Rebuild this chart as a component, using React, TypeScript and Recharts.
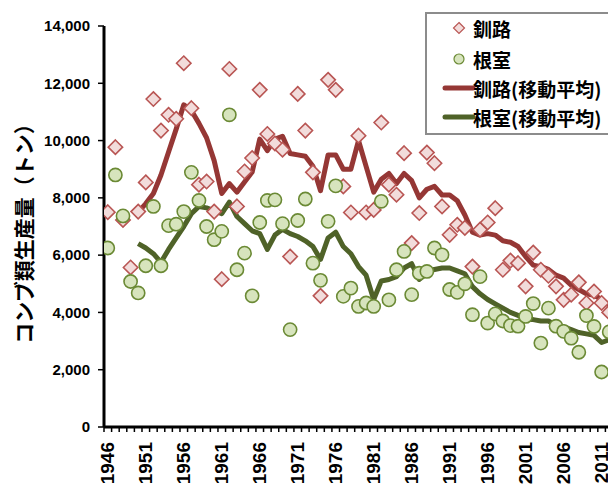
import React from 'react';
import { ComposedChart, Line, Scatter, XAxis, YAxis, Label } from 'recharts';

const years = [
  1946, 1947, 1948, 1949, 1950, 1951, 1952, 1953, 1954, 1955,
  1956, 1957, 1958, 1959, 1960, 1961, 1962, 1963, 1964, 1965,
  1966, 1967, 1968, 1969, 1970, 1971, 1972, 1973, 1974, 1975,
  1976, 1977, 1978, 1979, 1980, 1981, 1982, 1983, 1984, 1985,
  1986, 1987, 1988, 1989, 1990, 1991, 1992, 1993, 1994, 1995,
  1996, 1997, 1998, 1999, 2000, 2001, 2002, 2003, 2004, 2005,
  2006, 2007, 2008, 2009, 2010, 2011, 2012,
];

// 釧路 (annual)
const kushiro = [
  7500, 9770, 7230, 5570, 7520, 8540, 11450, 10350, 10900, 10760,
  12700, 11130, 8460, 8570, 7520, 5160, 12500, 7700, 8920, 9390,
  11770, 10230, 9900, 9680, 5950, 11630, 10350, 8890, 4580, 12120,
  11770, 8400, 7490, 10170, 7490, 7580, 10630, 8460, 8110, 9560,
  6420, 7470, 9580, 9210, 7700, 6710, 7060, 6950, 5600, 6890,
  7140, 7640, 5490, 5810, 5720, 4910, 6090, 5490, 5280, 4910,
  4440, 4620, 5050, 4330, 4730, 4330, 4000,
];

// 根室 (annual)
const nemuro = [
  6250, 8800, 7370, 5080, 4680, 5630, 7700, 5630, 7030, 7080,
  7520, 8890, 7910, 7000, 6540, 6830, 10900, 5490, 6070, 4580,
  7140, 7910, 7930, 7100, 3400, 7210, 7960, 5720, 5120, 7180,
  8420, 4560, 4850, 4210, 4330, 4210, 7880, 4440, 5490, 6130,
  4620, 5370, 5430, 6250, 6010, 4800, 4700, 5000, 3920, 5250,
  3630, 3950, 3700, 3540, 3520, 3860, 4310, 2930, 4150, 3520,
  3340, 3100, 2610, 3890, 3510, 1920, 3320,
];

// 釧路(移動平均)
const kushiroMA = [
  null, null, null, null,
  7500, 7800, 8150, 8800, 9600, 10400,
  11250, 11050, 10600, 10100, 9300, 8150, 8500, 8200, 8550, 8900,
  10050, 9650, 10050, 10150, 9550, 9500, 9450, 9100, 8250, 9500,
  9500, 9000, 9000, 10000, 9100, 8200, 8650, 8850, 8500, 8850,
  8600, 8000, 8300, 8400, 8100, 8100, 7900, 7400, 6800, 6700,
  6750, 6700, 6500, 6450, 6300, 5950, 5650, 5600, 5500, 5300,
  5200, 4950, 4800, 4650, 4600, 4450, 4250,
];

// 根室(移動平均)
const nemuroMA = [
  null, null, null, null,
  6400, 6250, 6050, 5750, 6200, 6600,
  7000, 7450, 7700, 7650, 7550, 7450, 7850, 7350, 7100, 6850,
  6750, 6200, 6700, 6900, 6750, 6650, 6500, 6300, 5850, 6600,
  6800, 6300, 6050, 5600, 5300, 4450, 5100, 5150, 5250, 5550,
  5700, 5150, 5400, 5500, 5550, 5550, 5450, 5350, 4900, 4650,
  4450, 4300, 4150, 4000, 3900, 3750, 3750, 3700, 3700, 3550,
  3500, 3400, 3300, 3250, 3200, 2950, 3050,
];

const yTicks = [0, 2000, 4000, 6000, 8000, 10000, 12000, 14000];
const xLabelYears = [1946, 1951, 1956, 1961, 1966, 1971, 1976, 1981, 1986, 1991, 1996, 2001, 2006, 2011];

const data = years.map((year, i) => ({
  year,
  kushiro: kushiro[i],
  nemuro: nemuro[i],
  kushiroMA: kushiroMA[i],
  nemuroMA: nemuroMA[i],
}));

const W = 608;
const H = 480;
const MARGIN = { top: 18, right: 3, bottom: 0, left: 0 };
const Y_AXIS_W = 96;
const X_AXIS_H = 61;
const PLOT_W = W - MARGIN.left - MARGIN.right - Y_AXIS_W;
const HALF_BAND = PLOT_W / years.length / 2;

const NUM_FONT = '"Liberation Sans", Arial, sans-serif';
const JP_FONT = '"Noto Sans CJK JP", "Noto Sans CJK SC", sans-serif';

const DIAMOND_FILL = '#f2dcdb';
const DIAMOND_STROKE = '#b95654';
const CIRCLE_FILL = '#d7e4bd';
const CIRCLE_STROKE = '#6b8a35';
const RED_LINE = '#953735';
const GREEN_LINE = '#4f6228';

const XTick = (props: any) => {
  const { x, y, payload } = props;
  const v = payload.value;
  const showLabel = xLabelYears.includes(v);
  const last = v === years[years.length - 1];
  return (
    <g>
      <line x1={x - HALF_BAND} x2={x - HALF_BAND} y1={y} y2={y + 5} stroke="#000" strokeWidth={1.5} />
      {last && <line x1={x + HALF_BAND} x2={x + HALF_BAND} y1={y} y2={y + 5} stroke="#000" strokeWidth={1.5} />}
      {showLabel && (
        <text
          x={x}
          y={y + 15}
          transform={`rotate(-90 ${x} ${y + 15})`}
          textAnchor="end"
          dominantBaseline="central"
          fontSize={19}
          fontWeight="bold"
          fontFamily={NUM_FONT}
          fill="#000"
        >
          {v}
        </text>
      )}
    </g>
  );
};

const DiamondShape = (props: any) => {
  const { cx, cy } = props;
  if (cx == null || cy == null || isNaN(cx) || isNaN(cy)) return null;
  const r = 7.2;
  return (
    <path
      d={`M${cx},${cy - r}L${cx + r},${cy}L${cx},${cy + r}L${cx - r},${cy}Z`}
      fill={DIAMOND_FILL}
      stroke={DIAMOND_STROKE}
      strokeWidth={1.6}
    />
  );
};

const CircleShape = (props: any) => {
  const { cx, cy } = props;
  if (cx == null || cy == null || isNaN(cx) || isNaN(cy)) return null;
  return <circle cx={cx} cy={cy} r={6.6} fill={CIRCLE_FILL} stroke={CIRCLE_STROKE} strokeWidth={1.6} />;
};

const YTitle = (props: any) => {
  const vb = props.viewBox || { x: 0, y: 0, width: 0, height: 0 };
  const cx = vb.x + 14.5;
  const cy = vb.y + vb.height / 2 + 2;
  return (
    <text
      x={cx}
      y={cy}
      transform={`rotate(-90 ${cx} ${cy})`}
      textAnchor="middle"
      dominantBaseline="central"
      fontSize={21}
      fontWeight="bold"
      fontFamily={JP_FONT}
      fill="#000"
    >
      コンブ類生産量（トン）
    </text>
  );
};

const legendItems = [
  { name: '釧路', kind: 'diamond' },
  { name: '根室', kind: 'circle' },
  { name: '釧路(移動平均)', kind: 'redline' },
  { name: '根室(移動平均)', kind: 'greenline' },
];

const LegendBox = () => {
  const rowY = [16, 47, 76, 105];
  return (
    <svg width={200} height={124} style={{ display: 'block' }}>
      <rect x={1} y={1} width={210} height={121} fill="#fff" stroke="#8c8c8c" strokeWidth={2} />
      {legendItems.map((it, i) => {
        const y = rowY[i];
        let icon = null;
        if (it.kind === 'diamond') {
          const r = 5.5;
          icon = (
            <path
              d={`M34,${y - r}L${34 + r},${y}L34,${y + r}L${34 - r},${y}Z`}
              fill={DIAMOND_FILL}
              stroke={DIAMOND_STROKE}
              strokeWidth={1.2}
            />
          );
        } else if (it.kind === 'circle') {
          icon = <circle cx={34} cy={y} r={5} fill={CIRCLE_FILL} stroke={CIRCLE_STROKE} strokeWidth={1.2} />;
        } else {
          icon = (
            <line
              x1={20}
              x2={48}
              y1={y}
              y2={y}
              stroke={it.kind === 'redline' ? RED_LINE : GREEN_LINE}
              strokeWidth={5}
              strokeLinecap="round"
            />
          );
        }
        return (
          <g key={it.name}>
            {icon}
            <text
              x={48}
              y={y}
              dominantBaseline="central"
              fontSize={19}
              fontWeight="bold"
              fontFamily={JP_FONT}
              fill="#000"
            >
              {it.name}
            </text>
          </g>
        );
      })}
    </svg>
  );
};

export default function App() {
  return (
    <div style={{ width: W, height: H, overflow: 'hidden', position: 'relative' }}>
      <ComposedChart width={W} height={H} data={data} margin={MARGIN}>
        <XAxis
          dataKey="year"
          type="number"
          domain={[1945.5, 2012.5]}
          ticks={years}
          interval={0}
          tick={<XTick />}
          tickLine={false}
          tickSize={0}
          tickMargin={0}
          height={X_AXIS_H}
          axisLine={{ stroke: '#000', strokeWidth: 3 }}
          allowDataOverflow
        />
        <YAxis
          type="number"
          domain={[0, 14000]}
          ticks={yTicks}
          interval={0}
          width={Y_AXIS_W}
          tickSize={6}
          tickMargin={8}
          tickLine={{ stroke: '#000', strokeWidth: 1.5 }}
          axisLine={{ stroke: '#000', strokeWidth: 3 }}
          tick={{ fontSize: 15, fontWeight: 'bold', fill: '#000', fontFamily: NUM_FONT }}
          tickFormatter={(v: number) => v.toLocaleString('en-US')}
        >
          <Label content={<YTitle />} />
        </YAxis>
        <Line
          dataKey="kushiroMA"
          stroke={RED_LINE}
          strokeWidth={5}
          dot={false}
          activeDot={false}
          isAnimationActive={false}
          strokeLinejoin="round"
        />
        <Line
          dataKey="nemuroMA"
          stroke={GREEN_LINE}
          strokeWidth={5}
          dot={false}
          activeDot={false}
          isAnimationActive={false}
          strokeLinejoin="round"
        />
        <Scatter dataKey="kushiro" shape={<DiamondShape />} isAnimationActive={false} />
        <Scatter dataKey="nemuro" shape={<CircleShape />} isAnimationActive={false} />
      </ComposedChart>
      <div style={{ position: 'absolute', left: 417, top: 4, width: 200, height: 124 }}>
        <LegendBox />
      </div>
    </div>
  );
}
